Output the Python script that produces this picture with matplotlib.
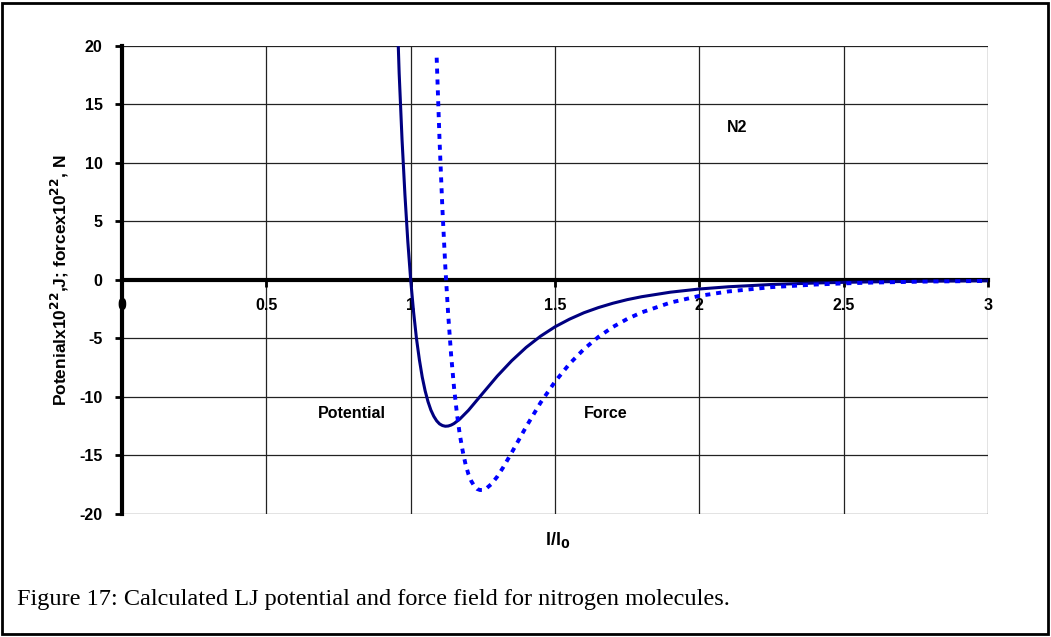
import matplotlib.pyplot as plt
import matplotlib.patches as patches

plt.rcParams['font.family'] = ['Liberation Sans', 'DejaVu Sans']

# LJ potential for N2
x_pot = [0.957, 0.96, 0.97, 0.98, 0.99, 1.0, 1.01, 1.02, 1.03, 1.04, 1.05, 1.06, 1.07, 1.08,
         1.09, 1.10, 1.11, 1.12, 1.13, 1.14, 1.15, 1.17, 1.2, 1.25, 1.3, 1.35, 1.4, 1.45,
         1.5, 1.55, 1.6, 1.65, 1.7, 1.75, 1.8, 1.9, 2.0, 2.1, 2.25, 2.4, 2.5, 2.6, 2.75, 2.8, 3.0]
potential = [20.0, 17.7, 12.0, 7.3, 3.3, 0.0, -2.73, -5.0, -6.8, -8.3, -9.47, -10.4, -11.12, -11.65,
             -12.04, -12.3, -12.44, -12.5, -12.48, -12.4, -12.27, -11.89, -11.14, -9.67, -8.21, -6.9,
             -5.76, -4.8, -4.0, -3.35, -2.8, -2.36, -1.99, -1.68, -1.43, -1.04, -0.77, -0.58, -0.385,
             -0.26, -0.2, -0.16, -0.12, -0.1, -0.07]

# force
x_force = [1.09, 1.10, 1.11, 1.12, 1.13, 1.14, 1.15, 1.16, 1.17, 1.18, 1.19, 1.20, 1.21, 1.22,
           1.23, 1.24, 1.25, 1.26, 1.28, 1.30, 1.32, 1.35, 1.40, 1.45, 1.5, 1.55, 1.6, 1.65,
           1.7, 1.75, 1.8, 1.9, 2.0, 2.1, 2.25, 2.4, 2.5, 2.6, 2.75, 2.8, 3.0]
force = [19.0, 11.9, 6.0, 1.1, -3.0, -6.4, -9.16, -11.4, -13.2, -14.6, -15.75, -16.6, -17.19, -17.6,
         -17.86, -17.95, -17.95, -17.86, -17.43, -16.8, -16.03, -14.75, -12.54, -10.48, -8.69, -7.17,
         -5.91, -4.87, -4.02, -3.33, -2.77, -1.93, -1.36, -0.98, -0.61, -0.39, -0.29, -0.22,
         -0.15, -0.13, -0.08]

x_ticks = [0, 0.5, 1, 1.5, 2, 2.5, 3]
x_ticklabels = ['0', '0.5', '1', '1.5', '2', '2.5', '3']
y_ticks = [-20, -15, -10, -5, 0, 5, 10, 15, 20]

fig = plt.figure(figsize=(10.51, 6.37), dpi=100)
ax = fig.add_axes([0.1161, 0.1931, 0.824, 0.7347])

# spine position first: it resets the ticks
ax.spines['bottom'].set_position(('data', 0))
ax.spines['bottom'].set_linewidth(3)
ax.spines['left'].set_linewidth(3)
ax.spines['top'].set_visible(False)
ax.spines['right'].set_visible(False)

ax.plot(x_pot, potential, color='#000080', lw=2.2, zorder=3)
ax.plot(x_force, force, color='#0000FF', lw=2.8, linestyle=(0, (1.3, 1.5)),
        dash_capstyle='butt', zorder=3)

ax.set_xlim(0, 3)
ax.set_ylim(-20, 20)
ax.set_xticks(x_ticks)
ax.set_xticklabels(x_ticklabels, fontsize=11.5, fontweight='bold')
ax.set_yticks(y_ticks)
ax.set_yticklabels([str(v) for v in y_ticks], fontsize=11.5, fontweight='bold')
ax.grid(True, color='#222222', lw=0.9)
ax.set_axisbelow(True)
ax.tick_params(axis='x', direction='out', length=5, width=2, pad=8)
ax.tick_params(axis='y', direction='out', length=5, width=2, pad=9)

ax.text(2.13, 13.0, 'N2', fontsize=11.5, fontweight='bold', ha='center', va='center')
ax.text(0.679, -11.4, 'Potential', fontsize=11.5, fontweight='bold', va='center')
ax.text(1.60, -11.4, 'Force', fontsize=11.5, fontweight='bold', va='center')

ax.set_ylabel('Potenialx10$^{\\mathbf{22}}$,J; forcex10$^{\\mathbf{22}}$, N',
              fontsize=12.5, fontweight='bold', labelpad=6)
fig.text(558 / 1051, 1 - 540 / 637, 'l/l$_{\\mathbf{0}}$', fontsize=13, fontweight='bold',
         ha='center', va='center')

fig.text(17 / 1051, 1 - 600 / 637,
         'Figure 17: Calculated LJ potential and force field for nitrogen molecules.',
         fontsize=17.5, family=['Liberation Serif', 'DejaVu Serif'], va='center')

fig.patches.append(patches.Rectangle((0.002, 0.004), 0.995, 0.992, transform=fig.transFigure,
                                     fill=False, edgecolor='black', lw=2))

fig.savefig('out.png', dpi=100)
